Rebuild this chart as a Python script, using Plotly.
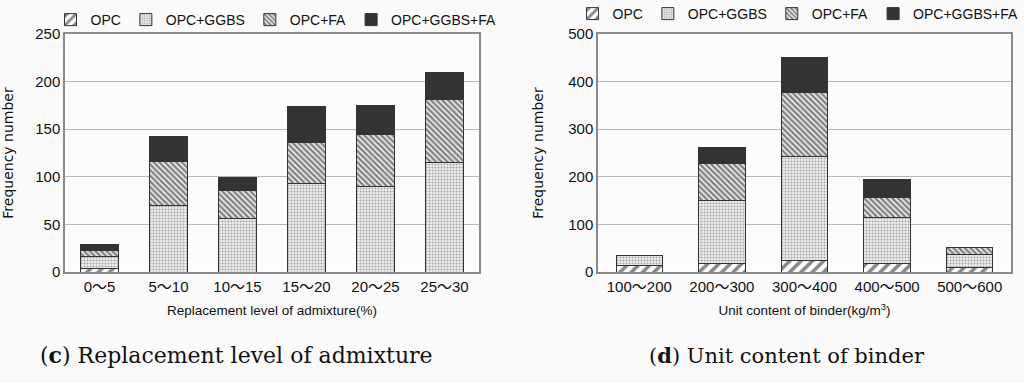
import plotly.graph_objects as go

# ---------------- data ----------------
series = ["OPC", "OPC+GGBS", "OPC+FA", "OPC+GGBS+FA"]

cats_c = ["0～5", "5～10", "10～15", "15～20", "20～25", "25～30"]
opc_c = [4, 0, 0, 0, 0, 0]
ggbs_c = [12, 70, 56, 93, 90, 115]
fa_c = [7, 46, 30, 43, 54, 66]
all_c = [6, 26, 13, 38, 31, 29]

cats_d = ["100～200", "200～300", "300～400", "400～500", "500～600"]
opc_d = [13, 18, 24, 17, 10]
ggbs_d = [21, 132, 218, 97, 26]
fa_d = [0, 78, 135, 43, 15]
all_d = [0, 33, 73, 37, 0]

yticks_c = [0, 50, 100, 150, 200, 250]
yticks_d = [0, 100, 200, 300, 400, 500]

# ---------------- styles ----------------
styles = [
    dict(color="white", pattern=dict(shape="/", fgcolor="#111", bgcolor="white", size=8, solidity=0.45)),
    dict(color="white", pattern=dict(shape=".", fgcolor="#555", bgcolor="#eeeeee", size=3, solidity=0.35)),
    dict(color="white", pattern=dict(shape="\\", fgcolor="#111", bgcolor="#eeeeee", size=4, solidity=0.55)),
    dict(color="#333333"),
]

FONT = "Liberation Sans, Arial, Noto Sans CJK KR, sans-serif"
WFONT = "DejaVu Sans, Liberation Sans, sans-serif"

fig = go.Figure()

left_data = [opc_c, ggbs_c, fa_c, all_c]
right_data = [opc_d, ggbs_d, fa_d, all_d]

for name, vals, st in zip(series, left_data, styles):
    fig.add_trace(go.Bar(
        x=cats_c, y=vals, name=name, xaxis="x", yaxis="y", legend="legend",
        marker=dict(line=dict(color="#333", width=1), **st),
    ))
for name, vals, st in zip(series, right_data, styles):
    fig.add_trace(go.Bar(
        x=cats_d, y=vals, name=name, xaxis="x2", yaxis="y2", legend="legend2",
        marker=dict(line=dict(color="#333", width=1), **st),
    ))

H = 383.0
W = 1024.0
ydom = [1 - 272 / H, 1 - 34 / H]

axis_common = dict(
    showline=True, linecolor="#8a8a8a", linewidth=1.5, mirror=True, automargin=False,
    ticks="", tickfont=dict(family=FONT, size=15, color="#111"),
)

legend_common = dict(
    orientation="h", xanchor="center", yanchor="middle", traceorder="normal",
    font=dict(size=14, family=FONT), itemwidth=30, bgcolor="rgba(0,0,0,0)",
    tracegroupgap=0,
)

fig.update_layout(
    width=1024, height=383,
    margin=dict(l=0, r=0, t=0, b=0, autoexpand=False),
    paper_bgcolor="#fafafa", plot_bgcolor="#fcfcfc",
    barmode="stack",
    bargap=0.44,
    font=dict(family=FONT, color="#111"),
    xaxis=dict(domain=[65 / W, 479 / W], anchor="y", showgrid=False,
               title=dict(text="Replacement level of admixture(%)", font=dict(size=13.5, family=FONT), standoff=12),
               **axis_common),
    yaxis=dict(domain=ydom, anchor="x", range=[0, 250], tickvals=yticks_c,
               showgrid=True, gridcolor="#b8b8b8", gridwidth=1.2,
               title=dict(text="Frequency number", font=dict(size=14, family=WFONT), standoff=21),
               **axis_common),
    xaxis2=dict(domain=[598 / W, 1011 / W], anchor="y2", showgrid=False,
                title=dict(text="Unit content of binder(kg/m<sup>3</sup>)", font=dict(size=13.5, family=FONT), standoff=12),
                **axis_common),
    yaxis2=dict(domain=ydom, anchor="x2", range=[0, 500], tickvals=yticks_d,
                showgrid=True, gridcolor="#b8b8b8", gridwidth=1.2,
                title=dict(text="Frequency number", font=dict(size=14, family=WFONT), standoff=21),
                **axis_common),
    legend=dict(x=276 / W, y=1 - 20 / H, **legend_common),
    legend2=dict(x=798 / W, y=1 - 14 / H, **legend_common),
    annotations=[
        dict(text="(<b>c</b>) Replacement level of admixture", x=236 / W, y=1 - 355 / H,
             xref="paper", yref="paper", showarrow=False, xanchor="center", yanchor="middle",
             font=dict(family="DejaVu Serif, serif", size=22, color="#111")),
        dict(text="(<b>d</b>) Unit content of binder", x=787 / W, y=1 - 355 / H,
             xref="paper", yref="paper", showarrow=False, xanchor="center", yanchor="middle",
             font=dict(family="DejaVu Serif, serif", size=21, color="#111")),
    ],
)

fig.write_html("out.html", config={"displayModeBar": False},
               post_script="document.body.style.margin='0px';")
